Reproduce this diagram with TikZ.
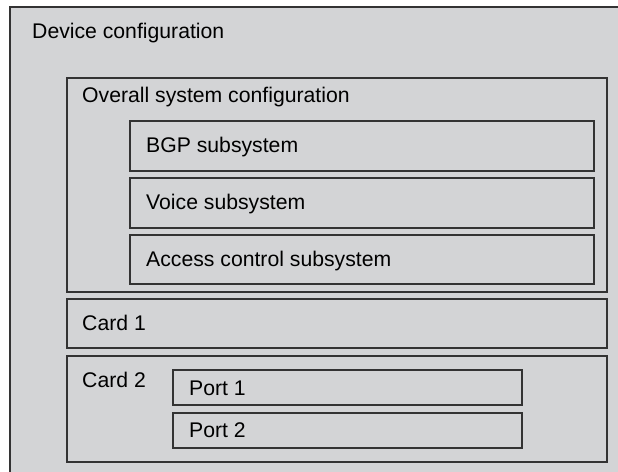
\documentclass[tikz,border=0pt]{standalone}
\usepackage{fontspec}
\setmainfont{Liberation Sans}
\definecolor{boxfill}{HTML}{D3D4D6}
\definecolor{boxline}{HTML}{333333}
\begin{document}
\begin{tikzpicture}[x=1pt,y=-1pt,
  box/.style={draw=boxline, fill=boxfill, line width=1.5pt, inner sep=0pt, anchor=north west},
  lbl/.style={anchor=base west, inner sep=0pt, font=\fontsize{21.2}{25}\selectfont, text=black}]
\useasboundingbox (0,0) rectangle (618,471);
\clip (0,0) rectangle (618,471);
\fill[white] (0,0) rectangle (618,471);
% outer device box (extends beyond picture right and bottom)
\node[box, minimum width=640pt, minimum height=500pt] (dev) at (9,6) {};
\node[lbl] (devt) at (32,38) {Device configuration};
% overall system configuration
\node[box, minimum width=540pt, minimum height=214pt] (sys) at (66,77) {};
\node[lbl] (syst) at (82,102) {Overall system configuration};
\node[box, minimum width=464pt, minimum height=50pt] (bgp) at (129,120) {};
\node[lbl] (bgpt) at (146,152) {BGP subsystem};
\node[box, minimum width=464pt, minimum height=50pt] (voice) at (129,177) {};
\node[lbl] (voicet) at (146,209) {Voice subsystem};
\node[box, minimum width=464pt, minimum height=49pt] (acc) at (129,234) {};
\node[lbl] (acct) at (146,266) {Access control subsystem};
% cards
\node[box, minimum width=540pt, minimum height=49pt] (card1) at (66,298) {};
\node[lbl] (card1t) at (82,330) {Card 1};
\node[box, minimum width=540pt, minimum height=106pt] (card2) at (66,355) {};
\node[lbl] (card2t) at (82,387) {Card 2};
\node[box, minimum width=349pt, minimum height=35pt] (port1) at (172,369) {};
\node[lbl] (port1t) at (189,395) {Port 1};
\node[box, minimum width=349pt, minimum height=35pt] (port2) at (172,412) {};
\node[lbl] (port2t) at (189,437) {Port 2};
\end{tikzpicture}
\end{document}
